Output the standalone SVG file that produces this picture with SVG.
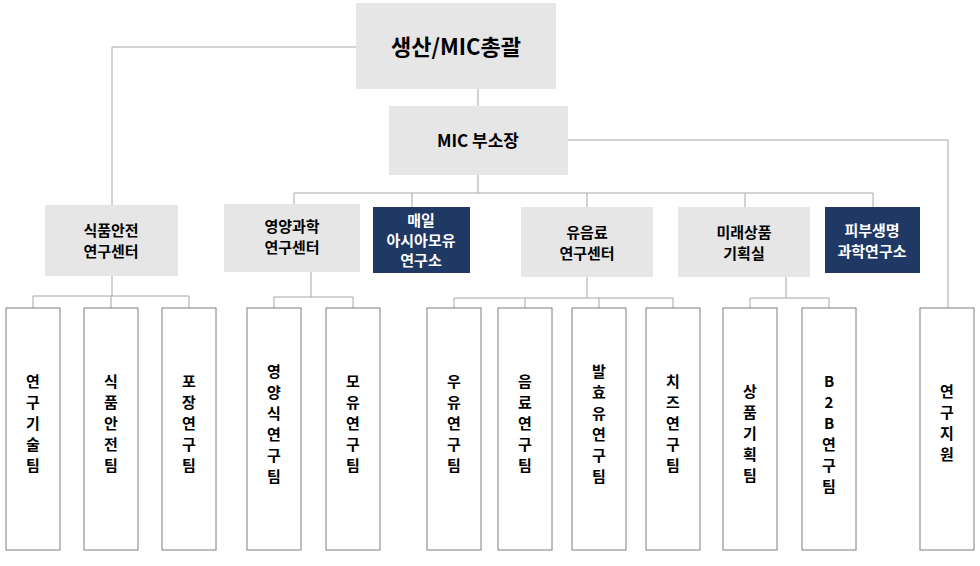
<svg xmlns="http://www.w3.org/2000/svg" width="980" height="566" viewBox="0 0 980 566">
<style>
.g{fill:#e7e6e6}
.n{fill:#1f3864}
.w{fill:#fff;stroke:#7f7f7f;stroke-width:1}
text{font-family:"Noto Sans CJK KR","Noto Sans",sans-serif;font-weight:bold;text-anchor:middle;fill:#000}
.t{font-size:15px}
.tw{font-size:15px;fill:#fff}
.v{font-size:15px}
#conn path{fill:none;stroke:#a6a6a6;stroke-width:1}
</style>
<rect width="980" height="566" fill="#fff"/>
<g id="conn">
<path d="M356 47H112V205"/>
<path d="M568 140H948V308"/>
<path d="M478 89V106M478 175V193M294 193H873M294 193V204M412 193V207M587 193V207M745 193V207M873 193V207"/>
<path d="M112 276V296M33 296H189M33 296V308M111 296V308M189 296V308"/>
<path d="M311 272V297M274 297H353M274 297V308M353 297V308"/>
<path d="M587 277V298M454 298H673M454 298V308M525 298V308M599 298V308M673 298V308"/>
<path d="M786 277V298M750 298H829M750 298V308M829 298V308"/>
</g>
<g id="top"><rect class="g" x="356" y="3" width="200" height="86"/><text x="456" y="55" font-size="22">생산/MIC총괄</text></g>
<g id="vice"><rect class="g" x="389" y="106" width="179" height="69"/><text x="478" y="147" font-size="17">MIC 부소장</text></g>
<g id="n1"><rect class="g" x="45" y="205" width="133" height="71"/><text class="t" x="111" y="236">식품안전</text><text class="t" x="111" y="257">연구센터</text></g>
<g id="n2"><rect class="g" x="224" y="204" width="136" height="68"/><text class="t" x="292" y="232">영양과학</text><text class="t" x="292" y="253">연구센터</text></g>
<g id="n3"><rect class="n" x="373" y="207" width="97" height="66"/><text class="tw" x="421" y="226">매일</text><text class="tw" x="421" y="246">아시아모유</text><text class="tw" x="421" y="266">연구소</text></g>
<g id="n4"><rect class="g" x="521" y="207" width="132" height="70"/><text class="t" x="587" y="238">유음료</text><text class="t" x="587" y="259">연구센터</text></g>
<g id="n5"><rect class="g" x="678" y="207" width="132" height="70"/><text class="t" x="744" y="238">미래상품</text><text class="t" x="744" y="259">기획실</text></g>
<g id="n6"><rect class="n" x="825" y="207" width="95" height="66"/><text class="tw" x="872" y="236">피부생명</text><text class="tw" x="872" y="257">과학연구소</text></g>
<g id="b1"><rect class="w" x="6" y="308" width="54" height="242"/><text class="v" x="33" y="387">연</text><text class="v" x="33" y="408">구</text><text class="v" x="33" y="429">기</text><text class="v" x="33" y="450">술</text><text class="v" x="33" y="471">팀</text></g>
<g id="b2"><rect class="w" x="84" y="308" width="54" height="242"/><text class="v" x="111" y="387">식</text><text class="v" x="111" y="408">품</text><text class="v" x="111" y="429">안</text><text class="v" x="111" y="450">전</text><text class="v" x="111" y="471">팀</text></g>
<g id="b3"><rect class="w" x="162" y="308" width="54" height="242"/><text class="v" x="189" y="387">포</text><text class="v" x="189" y="408">장</text><text class="v" x="189" y="429">연</text><text class="v" x="189" y="450">구</text><text class="v" x="189" y="471">팀</text></g>
<g id="b4"><rect class="w" x="247" y="308" width="54" height="242"/><text class="v" x="274" y="377">영</text><text class="v" x="274" y="398">양</text><text class="v" x="274" y="419">식</text><text class="v" x="274" y="440">연</text><text class="v" x="274" y="461">구</text><text class="v" x="274" y="482">팀</text></g>
<g id="b5"><rect class="w" x="326" y="308" width="54" height="242"/><text class="v" x="353" y="387">모</text><text class="v" x="353" y="408">유</text><text class="v" x="353" y="429">연</text><text class="v" x="353" y="450">구</text><text class="v" x="353" y="471">팀</text></g>
<g id="b6"><rect class="w" x="427" y="308" width="54" height="242"/><text class="v" x="454" y="387">우</text><text class="v" x="454" y="408">유</text><text class="v" x="454" y="429">연</text><text class="v" x="454" y="450">구</text><text class="v" x="454" y="471">팀</text></g>
<g id="b7"><rect class="w" x="498" y="308" width="54" height="242"/><text class="v" x="525" y="387">음</text><text class="v" x="525" y="408">료</text><text class="v" x="525" y="429">연</text><text class="v" x="525" y="450">구</text><text class="v" x="525" y="471">팀</text></g>
<g id="b8"><rect class="w" x="572" y="308" width="54" height="242"/><text class="v" x="599" y="377">발</text><text class="v" x="599" y="398">효</text><text class="v" x="599" y="419">유</text><text class="v" x="599" y="440">연</text><text class="v" x="599" y="461">구</text><text class="v" x="599" y="482">팀</text></g>
<g id="b9"><rect class="w" x="646" y="308" width="54" height="242"/><text class="v" x="673" y="387">치</text><text class="v" x="673" y="408">즈</text><text class="v" x="673" y="429">연</text><text class="v" x="673" y="450">구</text><text class="v" x="673" y="471">팀</text></g>
<g id="b10"><rect class="w" x="723" y="308" width="54" height="242"/><text class="v" x="750" y="397">상</text><text class="v" x="750" y="418">품</text><text class="v" x="750" y="439">기</text><text class="v" x="750" y="460">획</text><text class="v" x="750" y="481">팀</text></g>
<g id="b11"><rect class="w" x="802" y="308" width="54" height="242"/><text class="v" x="829" y="387">B</text><text class="v" x="829" y="408">2</text><text class="v" x="829" y="429">B</text><text class="v" x="829" y="450">연</text><text class="v" x="829" y="471">구</text><text class="v" x="829" y="492">팀</text></g>
<g id="b12"><rect class="w" x="920" y="308" width="54" height="242"/><text class="v" x="947" y="397">연</text><text class="v" x="947" y="418">구</text><text class="v" x="947" y="439">지</text><text class="v" x="947" y="460">원</text></g>
</svg>
